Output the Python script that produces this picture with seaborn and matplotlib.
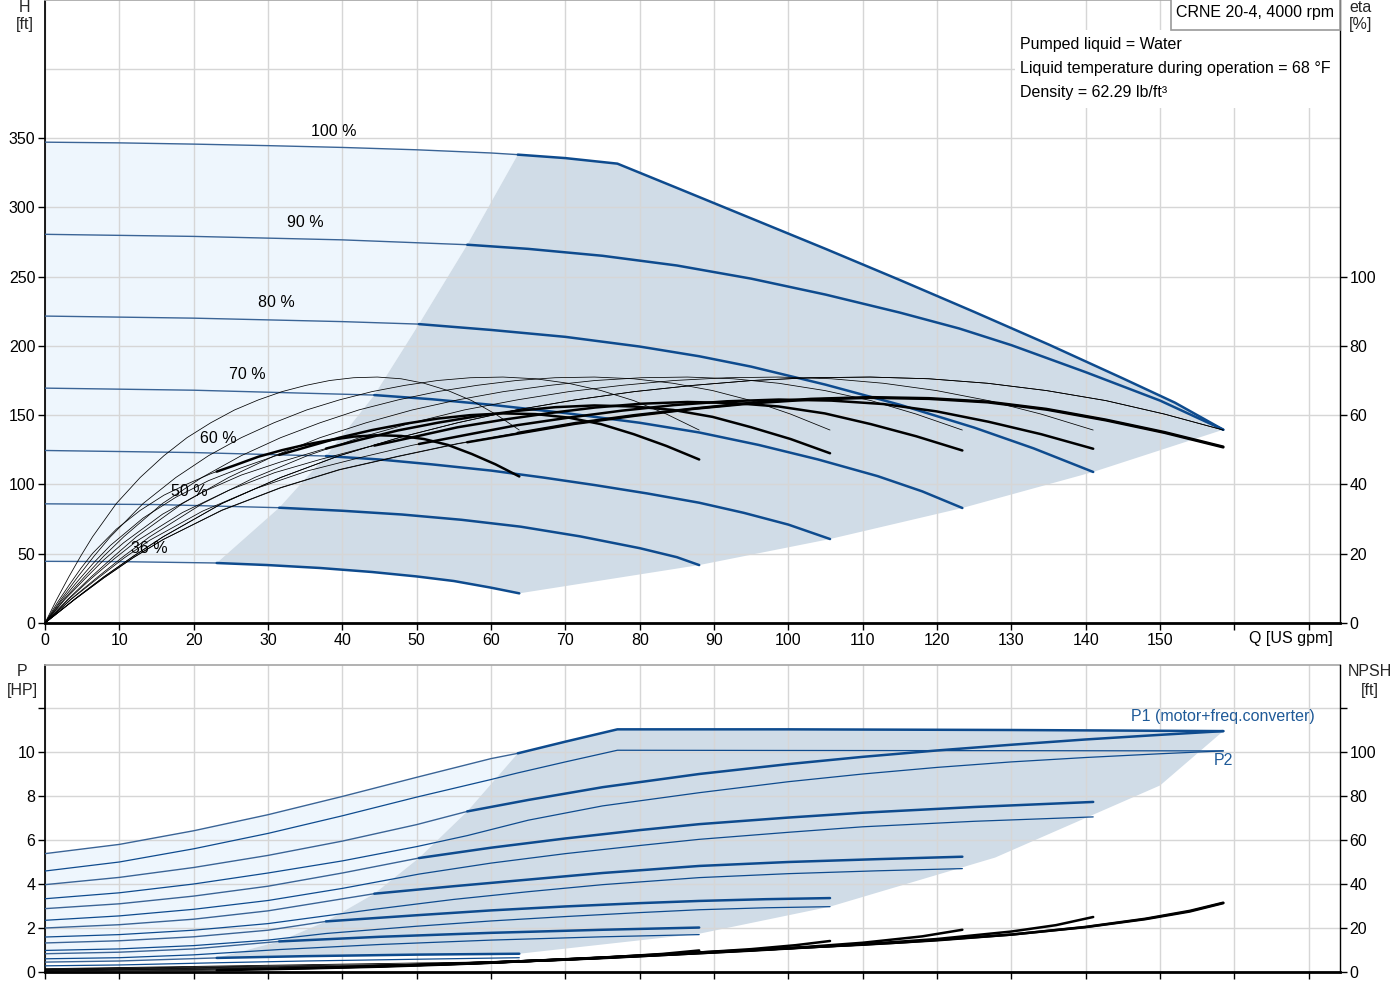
import numpy as np
import matplotlib.pyplot as plt
import matplotlib.patches as mpatches
import seaborn as sns

# ---------------------------------------------------------------
# data
# ---------------------------------------------------------------
SPEEDS = ['100 %', '90 %', '80 %', '70 %', '60 %', '50 %', '36 %']
Q_START = [63.6, 56.8, 50.3, 44.3, 37.8, 31.5, 23.1]   # start of operating range

# head curves H [ft] vs Q [US gpm]
HEAD_Q = {
    '100 %': [0, 10, 20, 30, 40, 50, 60, 63.6, 70, 77, 85, 95, 105, 115, 125, 135, 145, 152, 158.5],
    '90 %': [0, 20, 40, 56.8, 65, 75, 85, 95, 105, 115, 123, 130, 140, 150, 158.5],
    '80 %': [0, 20, 40, 50.3, 60, 70, 80, 88, 95, 105, 115, 125, 133, 141],
    '70 %': [0, 20, 44.3, 52, 60, 70, 80, 88, 96, 104, 112, 118, 123.4],
    '60 %': [0, 20, 37.8, 45, 52, 60, 67, 74, 81, 88, 94, 100, 105.6],
    '50 %': [0, 15, 31.5, 40, 48, 56, 64, 72, 80, 85, 88],
    '36 %': [0, 10, 23.1, 30, 37, 44, 50, 55, 60, 63.8],
}
HEAD_H = {
    '100 %': [347, 346.5, 345.6, 344.5, 343.2, 341.5, 339.2, 338, 335.5, 331.5, 314, 292, 270,
              247.5, 224.5, 201, 176.5, 159, 139.5],
    '90 %': [280.5, 279, 276.5, 273, 270, 265, 258, 248.5, 237, 224, 212.5, 200.5, 181, 160.5, 139.5],
    '80 %': [221.5, 220, 217.5, 215.7, 211.5, 206.5, 199.5, 192.5, 185, 172, 157.5, 141, 126, 109],
    '70 %': [169.5, 168, 164.5, 161.5, 157.5, 151.5, 144.5, 137.5, 128.5, 118, 106, 95, 83],
    '60 %': [124.5, 123, 120.5, 118, 114.5, 110, 105, 99.5, 93.5, 86.8, 79.5, 71, 60.6],
    '50 %': [86, 85.5, 83.2, 81, 78.3, 74.5, 69.5, 62.5, 54, 47.5, 41.8],
    '36 %': [44.5, 44.3, 43.3, 41.8, 39.7, 36.8, 33.6, 30.3, 25.5, 21.4],
}

# edges of the operating range in the H diagram
EDGE_Q = [23.1, 31.5, 37.8, 44.3, 50.3, 56.8, 63.6]
EDGE_H = [43.3, 83.2, 120.5, 164.5, 215.7, 273, 338]
LOW_Q = [158.5, 141.0, 123.4, 105.6, 88.0, 63.8]
LOW_H = [139.5, 109, 83, 60.6, 41.8, 21.4]

# efficiency curves [%], same Q points for pump eta and total eta
ETA_Q = {
    '100 %': [0, 4.0, 7.9, 11.9, 15.9, 23.8, 31.7, 39.6, 47.6, 55.5, 63.4, 71.3, 79.3, 87.2,
              95.1, 103.0, 111.0, 118.9, 126.8, 134.7, 142.7, 150.6, 158.5],
    '90 %': [0, 4.0, 7.9, 11.9, 15.9, 23.8, 31.7, 39.6, 47.6, 55.5, 63.4, 71.3, 79.3, 87.2,
             95.1, 103.0, 111.0, 118.9, 126.8, 134.7, 142.7, 150.6, 158.5],
    '80 %': [0, 3.5, 7.1, 10.6, 14.1, 21.2, 28.2, 35.3, 42.3, 49.4, 56.4, 63.5, 70.5, 77.6,
             84.6, 91.7, 98.7, 105.8, 112.8, 119.9, 126.9, 134.0, 141.0],
    '70 %': [0, 3.1, 6.2, 9.3, 12.3, 18.5, 24.7, 30.9, 37.0, 43.2, 49.4, 55.5, 61.7, 67.9,
             74.0, 80.2, 86.4, 92.6, 98.7, 104.9, 111.1, 117.2, 123.4],
    '60 %': [0, 2.6, 5.3, 7.9, 10.6, 15.8, 21.1, 26.4, 31.7, 37.0, 42.2, 47.5, 52.8, 58.1,
             63.4, 68.6, 73.9, 79.2, 84.5, 89.8, 95.0, 100.3, 105.6],
    '50 %': [0, 2.2, 4.4, 6.6, 8.8, 13.2, 17.6, 22.0, 26.4, 30.8, 35.2, 39.6, 44.0, 48.4,
             52.8, 57.2, 61.6, 66.0, 70.4, 74.8, 79.2, 83.6, 88.0],
    '36 %': [0, 1.6, 3.2, 4.8, 6.4, 9.6, 12.8, 16.0, 19.1, 22.3, 25.5, 28.7, 31.9, 35.1,
             38.3, 41.5, 44.7, 47.9, 51.0, 54.2, 57.4, 60.6, 63.8],
}
PUMP_ETA = [0, 6.9, 13.3, 19.3, 24.9, 34.5, 42, 48.3, 53.5, 57.8, 61.5, 64.4, 66.8, 68.6,
            70.0, 70.8, 71.0, 70.5, 69.2, 67.1, 64.2, 60.3, 55.7]
TOTAL_ETA = {
    '100 %': [0, 6.8, 13.0, 18.9, 24.1, 32.6, 39.1, 44.3, 48.2, 51.8, 54.8, 57.7, 60.0, 61.9,
              63.6, 64.7, 65.2, 64.9, 63.9, 61.8, 58.7, 55.1, 50.9],
    '90 %': [0, 6.8, 13.0, 18.9, 24.1, 32.5, 39.0, 44.2, 48.1, 51.7, 54.6, 57.5, 59.8, 61.8,
             63.4, 64.5, 65.0, 64.7, 63.7, 61.6, 58.5, 54.9, 50.7],
    '80 %': [0, 6.8, 12.9, 18.7, 23.9, 32.3, 38.7, 43.9, 47.7, 51.3, 54.2, 57.1, 59.3, 61.3,
             62.9, 64.0, 64.5, 64.2, 63.2, 61.1, 58.1, 54.5, 50.3],
    '70 %': [0, 6.7, 12.8, 18.5, 23.6, 31.9, 38.3, 43.4, 47.2, 50.7, 53.6, 56.5, 58.7, 60.6,
             62.2, 63.3, 63.8, 63.5, 62.5, 60.5, 57.4, 53.9, 49.8],
    '60 %': [0, 6.6, 12.6, 18.2, 23.2, 31.4, 37.7, 42.7, 46.5, 49.9, 52.8, 55.6, 57.8, 59.7,
             61.2, 62.3, 62.8, 62.5, 61.5, 59.5, 56.5, 53.1, 49.0],
    '50 %': [0, 6.4, 12.1, 17.5, 22.4, 30.3, 36.3, 41.1, 44.8, 48.1, 50.8, 53.5, 55.7, 57.5,
             59.0, 60.0, 60.5, 60.3, 59.3, 57.4, 54.5, 51.1, 47.2],
    '36 %': [0, 5.7, 10.8, 15.7, 20.1, 27.1, 32.5, 36.9, 40.1, 43.1, 45.5, 48.0, 49.9, 51.5,
             52.8, 53.8, 54.2, 54.0, 53.1, 51.4, 48.8, 45.8, 42.3],
}

# power curves [HP], P1 = motor+freq.converter, P2 = shaft
POWER_Q = {
    '100 %': [0, 10, 20, 30, 40, 50, 60, 63.6, 70, 77, 100, 130, 158.5],
    '90 %': [0, 10, 20, 30, 40, 50, 56.8, 65, 75, 88, 100, 110, 120, 130, 140, 150, 158.5],
    '80 %': [0, 10, 20, 30, 40, 50.3, 60, 70, 80, 88, 100, 110, 125, 141],
    '70 %': [0, 10, 20, 30, 44.3, 55, 65, 75, 88, 100, 112, 123.4],
    '60 %': [0, 10, 20, 30, 37.8, 50, 60, 70, 80, 88, 97, 105.6],
    '50 %': [0, 10, 20, 31.5, 45, 60, 75, 88],
    '36 %': [0, 10, 23.1, 35, 50, 63.8],
}
P1 = {
    '100 %': [5.38, 5.8, 6.42, 7.15, 7.98, 8.85, 9.7, 9.94, 10.47, 11.03, 11.03, 11.0, 10.95],
    '90 %': [3.97, 4.3, 4.75, 5.3, 5.95, 6.7, 7.3, 7.82, 8.4, 9.0, 9.45, 9.78, 10.07, 10.33,
             10.57, 10.78, 10.95],
    '80 %': [2.88, 3.1, 3.45, 3.9, 4.5, 5.18, 5.65, 6.07, 6.45, 6.72, 7.02, 7.24, 7.5, 7.73],
    '70 %': [2.0, 2.15, 2.4, 2.78, 3.56, 3.9, 4.2, 4.5, 4.82, 5.0, 5.13, 5.24],
    '60 %': [1.32, 1.42, 1.6, 1.9, 2.3, 2.58, 2.8, 2.98, 3.13, 3.23, 3.31, 3.36],
    '50 %': [0.83, 0.9, 1.05, 1.39, 1.6, 1.78, 1.92, 2.02],
    '36 %': [0.45, 0.5, 0.64, 0.72, 0.79, 0.83],
}
P2 = {
    '100 %': [4.59, 5.0, 5.6, 6.3, 7.1, 7.95, 8.75, 9.05, 9.55, 10.08, 10.07, 10.06, 10.05],
    '90 %': [3.33, 3.6, 4.0, 4.5, 5.05, 5.7, 6.2, 6.9, 7.55, 8.15, 8.65, 9.0, 9.3, 9.55,
             9.75, 9.92, 10.05],
    '80 %': [2.35, 2.55, 2.85, 3.25, 3.8, 4.45, 4.95, 5.38, 5.75, 6.03, 6.35, 6.6, 6.85, 7.05],
    '70 %': [1.59, 1.7, 1.9, 2.2, 2.85, 3.3, 3.65, 3.97, 4.29, 4.47, 4.6, 4.7],
    '60 %': [0.98, 1.05, 1.2, 1.45, 1.75, 2.08, 2.32, 2.52, 2.7, 2.83, 2.92, 2.97],
    '50 %': [0.6, 0.65, 0.78, 1.02, 1.25, 1.45, 1.6, 1.7],
    '36 %': [0.28, 0.32, 0.42, 0.5, 0.58, 0.65],
}
P_EDGE = [0.64, 1.39, 2.3, 3.56, 5.18, 7.3, 9.94]
P_LOW_Q = [158.5, 150, 127.8, 105.6, 88, 63.8, 40, 23.1]
P_LOW = [10.95, 8.48, 5.2, 2.97, 1.74, 0.83, 0.7, 0.64]

# NPSH curves [ft]
NPSH_Q = {
    '100 %': [0, 63.6, 75, 88, 100, 110, 120, 130, 140, 148, 154, 158.5],
    '90 %': [0, 56.8, 70, 85, 100, 115, 130, 140, 148, 154, 158.5],
    '80 %': [0, 50.3, 65, 80, 95, 110, 120, 130, 136, 141],
    '70 %': [0, 44.3, 60, 75, 90, 100, 110, 118, 123.4],
    '60 %': [0, 37.8, 55, 70, 85, 95, 101, 105.6],
    '50 %': [0, 31.5, 45, 60, 75, 83, 88],
    '36 %': [0, 23.1, 35, 45, 55, 60, 63.8],
}
NPSH = {
    '100 %': [1.5, 4.8, 6.6, 8.9, 10.8, 12.4, 14.4, 17.0, 20.4, 24.0, 27.5, 31.3],
    '90 %': [1.3, 3.9, 5.7, 8.2, 10.8, 13.4, 17.0, 20.5, 24.2, 27.8, 31.5],
    '80 %': [1.1, 3.2, 5.0, 7.2, 9.7, 12.6, 15.0, 18.4, 21.3, 25.0],
    '70 %': [0.9, 2.6, 4.3, 6.3, 8.9, 10.8, 13.3, 16.2, 19.2],
    '60 %': [0.7, 2.0, 3.7, 5.6, 8.2, 10.4, 12.2, 14.1],
    '50 %': [0.5, 1.5, 2.6, 4.2, 6.5, 8.2, 9.8],
    '36 %': [0.3, 0.8, 1.6, 2.4, 3.5, 4.2, 5.0],
}

# label positions (data coords)
LABEL_Q = [38.9, 35.0, 31.1, 27.2, 23.3, 19.4, 14.0]
LABEL_H = [355, 289, 231, 179, 133.5, 95, 54]

BLUE = '#0E4B8E'
BLUE_THIN = '#3A6496'
LIGHT = '#EEF6FD'
DARK = '#D0DCE7'
GRID = '#D6D6D6'
FS = 11.5


def line(ax, q, v, color, lw, z=3):
    sns.lineplot(x=np.asarray(q, float), y=np.asarray(v, float), ax=ax,
                 color=color, linewidth=lw, estimator=None, sort=False,
                 legend=False, zorder=z)


def split(q, v, q0):
    # split a curve at q0 -> (thin part, thick part)
    q = np.asarray(q, float)
    v = np.asarray(v, float)
    v0 = np.interp(q0, q, v)
    lo, hi = q < q0, q > q0
    return (np.r_[q[lo], q0], np.r_[v[lo], v0]), (np.r_[q0, q[hi]], np.r_[v0, v[hi]])


def style_axes(ax, twin):
    for s in ['left', 'bottom', 'right']:
        ax.spines[s].set_color('black')
    ax.spines['bottom'].set_linewidth(2)
    ax.spines['top'].set_color('#A8A8A8')
    ax.spines['right'].set_visible(False)
    ax.tick_params(axis='both', direction='out', length=5, width=1, color='black',
                   labelsize=FS, labelcolor='black', bottom=True, left=True, pad=2)
    ax.grid(True, color=GRID, linewidth=1)
    ax.set_axisbelow(True)
    twin.grid(False)
    for s in ['left', 'bottom', 'top']:
        twin.spines[s].set_visible(False)
    twin.spines['right'].set_color('black')
    twin.spines['right'].set_linewidth(1)
    twin.tick_params(axis='y', direction='out', length=5, width=1, color='black',
                     labelsize=FS, labelcolor='black', right=True, pad=2)


sns.set_theme(style="whitegrid")
plt.rcParams['font.family'] = ['Liberation Sans', 'DejaVu Sans']

fig = plt.figure(figsize=(14, 10), dpi=100)
ax_h = fig.add_axes([45 / 1400, 1 - 623 / 1000, 1295 / 1400, 623 / 1000])
ax_p = fig.add_axes([45 / 1400, 1 - 972 / 1000, 1295 / 1400, 307 / 1000])
ax_eta = ax_h.twinx()
ax_npsh = ax_p.twinx()

X_MAX = 174.2
H_MAX = 449.6

# ================= H diagram =================
h100_q = np.asarray(HEAD_Q['100 %'], float)
h100 = np.asarray(HEAD_H['100 %'], float)
h36_q = np.asarray(HEAD_Q['36 %'], float)
h36 = np.asarray(HEAD_H['36 %'], float)

m = h100_q < EDGE_Q[-1]
m36 = h36_q < EDGE_Q[0]
light_x = np.r_[h100_q[m], EDGE_Q[::-1], h36_q[m36][::-1]]
light_y = np.r_[h100[m], EDGE_H[::-1], h36[m36][::-1]]
ax_h.fill(light_x, light_y, color=LIGHT, lw=0, zorder=0.2)

m = h100_q > EDGE_Q[-1]
m36 = (h36_q > EDGE_Q[0]) & (h36_q < LOW_Q[-1])
dark_x = np.r_[EDGE_Q, h100_q[m], LOW_Q, h36_q[m36][::-1]]
dark_y = np.r_[EDGE_H, h100[m], LOW_H, h36[m36][::-1]]
ax_h.fill(dark_x, dark_y, color=DARK, lw=0, zorder=0.2)

for sp, q0 in zip(SPEEDS, Q_START):
    thin, thick = split(HEAD_Q[sp], HEAD_H[sp], q0)
    line(ax_h, *thin, BLUE_THIN, 1.0)
    line(ax_h, *thick, BLUE, 1.8)

for sp, lq, lh in zip(SPEEDS, LABEL_Q, LABEL_H):
    ax_h.text(lq, lh, sp, ha='center', va='center', fontsize=FS, color='black', zorder=5)

for sp, q0 in zip(SPEEDS, Q_START):
    line(ax_eta, ETA_Q[sp], PUMP_ETA, 'black', 0.55)
    thin, thick = split(ETA_Q[sp], TOTAL_ETA[sp], q0)
    line(ax_eta, *thin, 'black', 0.55)
    line(ax_eta, *thick, 'black', 1.8)

ax_h.axhline(400, color=GRID, linewidth=1, zorder=0.5)
ax_h.set_xlim(0, X_MAX)
ax_h.set_ylim(0, H_MAX)
ax_eta.set_ylim(0, H_MAX / 2.5)
ax_h.set_xticks(range(0, 180, 10))
ax_h.set_xticklabels([str(v) if v <= 150 else '' for v in range(0, 180, 10)])
ax_h.set_yticks(range(0, 400, 50))
ax_eta.set_yticks(range(0, 120, 20))
ax_h.set_xlabel('')
ax_h.set_ylabel('')
ax_eta.set_ylabel('')
style_axes(ax_h, ax_eta)

ax_h.text(167.6, -16 / 623, 'Q [US gpm]', transform=ax_h.get_xaxis_transform(),
          ha='center', va='center', fontsize=FS, color='black')

# info block with white background
ax_h.add_patch(mpatches.Rectangle((970 / 1295, (623 - 108) / 623), 325 / 1295, 78 / 623,
                                  transform=ax_h.transAxes, facecolor='white',
                                  edgecolor='none', zorder=4))
for txt, ypx in [('Pumped liquid = Water', 44),
                 ('Liquid temperature during operation = 68 °F', 68),
                 ('Density = 62.29 lb/ft³', 92)]:
    fig.text(1020 / 1400, 1 - ypx / 1000, txt, ha='left', va='center', fontsize=FS,
             color='black', zorder=6)

fig.patches.append(mpatches.Rectangle((1171 / 1400, 1 - 30 / 1000), 169 / 1400, 0.04,
                                      transform=fig.transFigure, facecolor='white',
                                      edgecolor='#9A9A9A', linewidth=1.2, zorder=5))
fig.text(1255 / 1400, 1 - 12 / 1000, 'CRNE 20-4, 4000 rpm', ha='center', va='center',
         fontsize=FS, color='black', zorder=6)

fig.text(25 / 1400, 1 - 7 / 1000, 'H', ha='center', va='center', fontsize=FS)
fig.text(25 / 1400, 1 - 25 / 1000, '[ft]', ha='center', va='center', fontsize=FS)
fig.text(1361 / 1400, 1 - 7 / 1000, 'eta', ha='center', va='center', fontsize=FS)
fig.text(1361 / 1400, 1 - 25 / 1000, '[%]', ha='center', va='center', fontsize=FS)

# ================= P / NPSH diagram =================
pq100 = np.asarray(POWER_Q['100 %'], float)
p100 = np.asarray(P1['100 %'], float)
pq36 = np.asarray(POWER_Q['36 %'], float)
p36 = np.asarray(P1['36 %'], float)

m = pq100 < EDGE_Q[-1]
m36 = pq36 < EDGE_Q[0]
ax_p.fill(np.r_[pq100[m], EDGE_Q[::-1], pq36[m36][::-1]],
          np.r_[p100[m], P_EDGE[::-1], p36[m36][::-1]], color=LIGHT, lw=0, zorder=0.2)
m = pq100 > EDGE_Q[-1]
ax_p.fill(np.r_[EDGE_Q, pq100[m], P_LOW_Q], np.r_[P_EDGE, p100[m], P_LOW],
          color=DARK, lw=0, zorder=0.2)

for sp, q0 in zip(SPEEDS, Q_START):
    thin, thick = split(POWER_Q[sp], P1[sp], q0)
    line(ax_p, *thin, BLUE_THIN, 1.0)
    line(ax_p, *thick, BLUE, 1.8)
    line(ax_p, POWER_Q[sp], P2[sp], BLUE, 0.9)

for sp, q0 in zip(SPEEDS, Q_START):
    thin, thick = split(NPSH_Q[sp], NPSH[sp], q0)
    line(ax_npsh, *thin, 'black', 0.6)
    line(ax_npsh, *thick, 'black', 1.8)

ax_p.text(158.4, 11.6, 'P1 (motor+freq.converter)', ha='center', va='center',
          fontsize=FS, color='#1F5A98', zorder=5)
ax_p.text(158.5, 9.6, 'P2', ha='center', va='center', fontsize=FS,
          color='#1F5A98', zorder=5)

P_MAX = 307 / 22
ax_p.set_xlim(0, X_MAX)
ax_p.set_ylim(0, P_MAX)
ax_npsh.set_ylim(0, P_MAX * 10)
ax_p.set_xticks(range(0, 180, 10))
ax_p.set_xticklabels([])
ax_p.set_yticks(range(0, 14, 2))
ax_p.set_yticklabels([str(v) if v <= 10 else '' for v in range(0, 14, 2)])
ax_npsh.set_yticks(range(0, 140, 20))
ax_npsh.set_yticklabels([str(v) if v <= 100 else '' for v in range(0, 140, 20)])
ax_p.set_xlabel('')
ax_p.set_ylabel('')
ax_npsh.set_ylabel('')
style_axes(ax_p, ax_npsh)

fig.text(22 / 1400, 1 - 672 / 1000, 'P', ha='center', va='center', fontsize=FS)
fig.text(22 / 1400, 1 - 691 / 1000, '[HP]', ha='center', va='center', fontsize=FS)
fig.text(1370 / 1400, 1 - 672 / 1000, 'NPSH', ha='center', va='center', fontsize=FS)
fig.text(1370 / 1400, 1 - 691 / 1000, '[ft]', ha='center', va='center', fontsize=FS)

fig.savefig('out.png', dpi=100)
